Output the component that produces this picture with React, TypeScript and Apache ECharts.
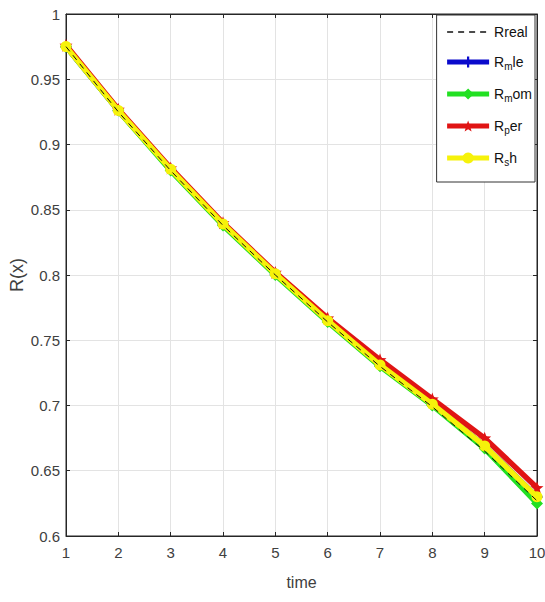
import React, { useEffect, useRef } from "react";
import * as echarts from "echarts";

const timeValues = [1, 2, 3, 4, 5, 6, 7, 8, 9, 10];
const yTickValues = [0.6, 0.65, 0.7, 0.75, 0.8, 0.85, 0.9, 0.95, 1];
const realValues = [0.975, 0.925, 0.88, 0.838, 0.8, 0.764, 0.73, 0.699, 0.665, 0.627];
const mleValues = [0.975, 0.926, 0.881, 0.839, 0.801, 0.765, 0.731, 0.701, 0.669, 0.63];
const momValues = [0.975, 0.926, 0.88, 0.838, 0.8, 0.764, 0.73, 0.7, 0.667, 0.625];
const perValues = [0.976, 0.927, 0.882, 0.84, 0.802, 0.767, 0.735, 0.705, 0.675, 0.637];
const shValues = [0.975, 0.926, 0.881, 0.839, 0.801, 0.765, 0.731, 0.701, 0.669, 0.63];

const legendLabels: Record<string, string> = {
  Rreal: "{a|Rreal}",
  Rmle: "{a|R}{s|m}{a|le}",
  Rmom: "{a|R}{s|m}{a|om}",
  Rper: "{a|R}{s|p}{a|er}",
  Rsh: "{a|R}{s|s}{a|h}",
};

function starPath(points: number, inner: number): string {
  const pts: string[] = [];
  for (let i = 0; i < points * 2; i++) {
    const r = i % 2 === 0 ? 10 : 10 * inner;
    const a = -Math.PI / 2 + (i * Math.PI) / points;
    pts.push(`${(10 + r * Math.cos(a)).toFixed(2)} ${(10 + r * Math.sin(a)).toFixed(2)}`);
  }
  return "path://M" + pts.join(" L") + " Z";
}

const FONT = "'Liberation Sans', Arial, sans-serif";

export default function App() {
  const ref = useRef<HTMLDivElement>(null);
  useEffect(() => {
    if (!ref.current) return;
    const chart = echarts.init(ref.current, null, { renderer: "svg" });
    const pair = (vals: number[]) => timeValues.map((t, i) => [t, vals[i]]);
    const pentagram = starPath(5, 0.42);
    const axisColor = "#262626";
    const labelColor = "#404040";
    const LW = 5.5;
    chart.setOption({
      animation: false,
      backgroundColor: "#ffffff",
      grid: {
        left: 66,
        right: 8,
        top: 14,
        bottom: 66,
        containLabel: false,
        outerBoundsMode: "none",
        show: true,
        borderColor: axisColor,
        borderWidth: 1,
        backgroundColor: "#ffffff",
      },
      legend: {
        data: [
          { name: "Rreal", itemStyle: { opacity: 0 }, lineStyle: { width: 1.5 } },
          { name: "Rmle", lineStyle: { width: 5 } },
          { name: "Rmom", lineStyle: { width: 5 } },
          { name: "Rper", lineStyle: { width: 5 } },
          { name: "Rsh", lineStyle: { width: 5 } },
        ],
        orient: "vertical",
        right: 10,
        top: 15,
        backgroundColor: "#ffffff",
        borderColor: "#333333",
        borderWidth: 1,
        padding: [10, 3, 15, 8],
        itemWidth: 42,
        itemHeight: 14,
        itemGap: 14,
        formatter: (name: string) => legendLabels[name] || name,
        textStyle: {
          fontFamily: FONT,
          color: "#111111",
          rich: {
            a: { fontFamily: FONT, fontSize: 14, color: "#111111", lineHeight: 16 },
            s: { fontFamily: FONT, fontSize: 10, color: "#111111", lineHeight: 10, padding: [8, 0, 0, 0] },
          },
        },
      },
      xAxis: [
        {
          type: "value",
          min: 1,
          max: 10,
          interval: 1,
          name: "time",
          nameLocation: "middle",
          nameGap: 38,
          nameMoveOverlap: false,
          nameTextStyle: { fontFamily: FONT, fontSize: 16, color: labelColor },
          axisLine: { show: true, lineStyle: { color: axisColor, width: 1 } },
          axisTick: { show: true, inside: true, length: 4, lineStyle: { color: axisColor } },
          axisLabel: { margin: 9, fontFamily: FONT, fontSize: 15, color: labelColor },
          splitLine: { show: true, lineStyle: { color: "#e3e3e3", width: 1 } },
        },
        {
          type: "value",
          position: "top",
          min: 1,
          max: 10,
          interval: 1,
          axisLine: { show: true, lineStyle: { color: axisColor, width: 1 } },
          axisTick: { show: true, inside: true, length: 4, lineStyle: { color: axisColor } },
          axisLabel: { show: false },
          splitLine: { show: false },
        },
      ],
      yAxis: [
        {
          type: "value",
          min: 0.6,
          max: 1,
          interval: 0.05,
          name: "R(x)",
          nameLocation: "middle",
          nameGap: 40,
          nameMoveOverlap: false,
          nameTextStyle: { fontFamily: FONT, fontSize: 18, color: labelColor },
          axisLine: { show: true, lineStyle: { color: axisColor, width: 1 } },
          axisTick: { show: true, inside: true, length: 4, lineStyle: { color: axisColor } },
          axisLabel: {
            margin: 6,
            fontFamily: FONT,
            fontSize: 15,
            color: labelColor,
            formatter: (v: number) => {
              const m = yTickValues.find((t) => Math.abs(t - v) < 1e-6);
              return m !== undefined ? String(m) : "";
            },
          },
          splitLine: { show: true, lineStyle: { color: "#e3e3e3", width: 1 } },
        },
        {
          type: "value",
          position: "right",
          min: 0.6,
          max: 1,
          interval: 0.05,
          axisLine: { show: true, lineStyle: { color: axisColor, width: 1 } },
          axisTick: { show: true, inside: true, length: 4, lineStyle: { color: axisColor } },
          axisLabel: { show: false },
          splitLine: { show: false },
        },
      ],
      series: [
        {
          name: "Rmle",
          type: "line",
          data: pair(mleValues),
          symbol: "path://M8 0 L12 0 L12 8 L20 8 L20 12 L12 12 L12 20 L8 20 L8 12 L0 12 L0 8 L8 8 Z",
          symbolSize: 11,
          lineStyle: { color: "#0a0acc", width: LW },
          itemStyle: { color: "#0a0acc" },
          z: 2,
        },
        {
          name: "Rmom",
          type: "line",
          data: pair(momValues),
          symbol: "diamond",
          symbolSize: 12,
          lineStyle: { color: "#22e022", width: LW },
          itemStyle: { color: "#22e022" },
          z: 3,
        },
        {
          name: "Rper",
          type: "line",
          data: pair(perValues),
          symbol: pentagram,
          symbolSize: 13,
          lineStyle: { color: "#e01414", width: LW },
          itemStyle: { color: "#e01414" },
          z: 4,
        },
        {
          name: "Rsh",
          type: "line",
          data: pair(shValues),
          symbol: "circle",
          symbolSize: 11,
          lineStyle: { color: "#f6f20a", width: LW },
          itemStyle: { color: "#f6f20a" },
          z: 5,
        },
        {
          name: "Rreal",
          type: "line",
          data: pair(realValues),
          symbol: "none",
          lineStyle: { color: "#111111", width: 1, type: [6, 5] },
          itemStyle: { color: "#111111" },
          z: 6,
        },
      ],
    });
    return () => chart.dispose();
  }, []);
  return <div ref={ref} style={{ width: 545, height: 602, position: "absolute", left: 0, top: 0 }} />;
}
